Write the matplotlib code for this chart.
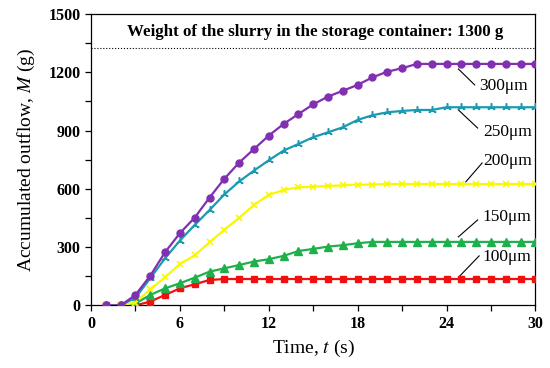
import matplotlib
matplotlib.use("Agg")
import matplotlib.pyplot as plt
from matplotlib.ticker import MultipleLocator

plt.rcParams['font.family'] = ['Liberation Serif', 'DejaVu Serif']
plt.rcParams['mathtext.fontset'] = 'stix'

# time (s)
t = list(range(1, 31))

# accumulated outflow (g) for each particle size
m_300 = [0, 0, 54, 153, 274, 372, 452, 555, 652, 735, 805, 874, 934, 985, 1035,
         1075, 1105, 1135, 1174, 1203, 1221, 1243, 1243, 1243, 1243, 1243, 1243, 1243, 1243, 1243]
m_250 = [0, 0, 40, 140, 243, 334, 414, 491, 571, 638, 694, 747, 797, 831, 866,
         891, 917, 955, 979, 994, 1001, 1006, 1006, 1020, 1020, 1020, 1020, 1020, 1020, 1020]
m_200 = [0, 0, 15, 83, 145, 213, 258, 325, 389, 451, 517, 569, 594, 608, 611,
         615, 618, 622, 622, 625, 625, 625, 625, 625, 625, 625, 625, 625, 625, 625]
m_150 = [0, 0, 10, 54, 88, 114, 143, 174, 191, 208, 226, 238, 255, 280, 291,
         303, 310, 320, 327, 327, 327, 327, 327, 327, 327, 327, 327, 327, 327, 327]
m_100 = [0, 0, 0, 20, 54, 88, 109, 131, 136, 136, 136, 136, 136, 136, 136,
         136, 136, 136, 136, 136, 136, 136, 136, 136, 136, 136, 136, 136, 136, 136]

slurry_weight = 1325  # dotted reference line
header = "Weight of the slurry in the storage container: 1300 g"

# label text, text position, leader line start (on curve) and end
labels = [
    ("300\u03bcm", (26.2, 1130), (24.8, 1217), (25.9, 1135)),
    ("250\u03bcm", (26.5, 893), (24.8, 1006), (26.1, 913)),
    ("200\u03bcm", (26.5, 744), (25.3, 636), (26.4, 733)),
    ("150\u03bcm", (26.4, 455), (24.8, 353), (26.1, 440)),
    ("100\u03bcm", (26.4, 250), (24.9, 152), (26.2, 255)),
]

fig = plt.figure(figsize=(5.5, 3.68), dpi=100)
ax = fig.add_axes([0.1655, 0.170, 0.808, 0.792])

ax.plot(t, m_100, color='#f01010', marker='s', ms=5, lw=1.6, zorder=3)
ax.plot(t, m_150, color='#1eb04a', marker='^', ms=5.5, lw=1.6, zorder=3)
ax.plot(t, m_200, color='#f8f800', marker='x', ms=5, mew=1.2, lw=1.6, zorder=3)
ax.plot(t, m_250, color='#1a9ab0', marker=(3, 2, 0), ms=6, mew=1.1, lw=1.6, zorder=4)
ax.plot(t, m_300, color='#8030b0', marker='o', ms=5, lw=1.6, zorder=5)

ax.axhline(slurry_weight, color='black', ls=':', lw=0.8)
ax.text(15.1, 1407, header, ha='center', va='center', fontsize=12.2, fontweight='bold')

for txt, pos, p0, p1 in labels:
    ax.plot([p0[0], p1[0]], [p0[1], p1[1]], color='black', lw=0.8)
    ax.text(pos[0], pos[1], txt, ha='left', va='center', fontsize=12.5)

ax.set_xlim(0, 30)
ax.set_ylim(0, 1500)
ax.xaxis.set_major_locator(MultipleLocator(6))
ax.xaxis.set_minor_locator(MultipleLocator(3))
ax.yaxis.set_major_locator(MultipleLocator(300))
ax.yaxis.set_minor_locator(MultipleLocator(150))
ax.tick_params(which='both', direction='out', length=4, width=0.9)
ax.tick_params(labelsize=11.5)
for lab in ax.get_xticklabels() + ax.get_yticklabels():
    lab.set_fontweight('bold')
for s in ax.spines.values():
    s.set_linewidth(0.9)

ax.set_xlabel('Time, $t$ (s)', fontsize=14, labelpad=4)
ax.set_ylabel('Accumulated outflow, $M$ (g)', fontsize=14, labelpad=8)

fig.savefig('out.png', dpi=100)
